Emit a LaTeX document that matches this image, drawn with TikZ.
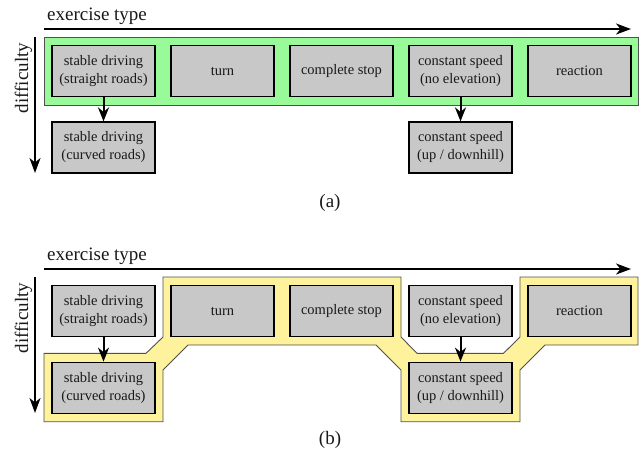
\documentclass[tikz,border=0pt]{standalone}
\usepackage{fontspec}
\setmainfont{Liberation Serif}
\usetikzlibrary{arrows.meta}
\definecolor{boxgray}{HTML}{C8C8C8}
\definecolor{regiongreen}{HTML}{99FA99}
\definecolor{regionyellow}{HTML}{FFF29C}
\definecolor{regionedge}{HTML}{505050}
\tikzset{
  exbox/.style={draw=black, line width=1.2pt, fill=boxgray, minimum width=103pt, minimum height=51pt,
    inner sep=0pt, align=center, font=\fontsize{14.5}{18}\selectfont, text=black!90},
  axis/.style={line width=2pt, -{Stealth[length=15pt, width=11pt, inset=4.5pt]}},
  dep/.style={line width=2pt, -{Stealth[length=14pt, width=11pt, inset=4.5pt]}},
  region/.style={draw=regionedge, line width=0.9pt},
  lbl/.style={font=\fontsize{19}{23}\selectfont, inner sep=0pt, text=black!90},
}
\begin{document}
\begin{tikzpicture}[x=1pt, y=-1pt]
\useasboundingbox (0,0) rectangle (642,459);
% ---------- panel (a) ----------
\fill[white] (0,0) rectangle (642,459);
\draw[region, fill=regiongreen] (44,37) rectangle (638,105);
\node[lbl, anchor=base west] (xa) at (47,20) {exercise type};
\node[lbl, anchor=base, rotate=90] (ya) at (28,78) {difficulty};
\coordinate (xa0) at (44,29);
\coordinate (xa1) at (631,29);
\coordinate (ya0) at (35,37);
\coordinate (ya1) at (35,173);
\draw[axis] (xa0) -- (xa1);
\draw[axis] (ya0) -- (ya1);
\node[exbox] (a1) at (103.5,71) {stable driving\\(straight roads)};
\node[exbox] (a2) at (222.5,71) {turn};
\node[exbox] (a3) at (341.5,71) {complete stop};
\node[exbox] (a4) at (460.5,71) {constant speed\\(no elevation)};
\node[exbox] (a5) at (579.5,71) {reaction};
\node[exbox] (a6) at (103.5,147.5) {stable driving\\(curved roads)};
\node[exbox] (a7) at (460.5,147.5) {constant speed\\(up / downhill)};
\draw[dep] (a1.south) -- (a6.north);
\draw[dep] (a4.south) -- (a7.north);
\node[lbl] (capa) at (330,203) {(a)};
% ---------- panel (b) ----------
\draw[region, fill=regionyellow]
  (44,353.3) -- (146,353.3) -- (163,337) -- (163,277) -- (401,277) -- (401,337)
  -- (417,353.3) -- (503.5,353.3) -- (520,337) -- (520,277) -- (638,277) -- (638,345)
  -- (545,345) -- (520,370) -- (520,421.7) -- (401,421.7) -- (401,370) -- (376,345)
  -- (188,345) -- (163,370) -- (163,421.7) -- (44,421.7) -- cycle;
\node[lbl, anchor=base west] (xb) at (47,260) {exercise type};
\node[lbl, anchor=base, rotate=90] (yb) at (28,318) {difficulty};
\coordinate (xb0) at (44,269);
\coordinate (xb1) at (631,269);
\coordinate (yb0) at (35,277);
\coordinate (yb1) at (35,413);
\draw[axis] (xb0) -- (xb1);
\draw[axis] (yb0) -- (yb1);
\node[exbox] (b1) at (103.5,311) {stable driving\\(straight roads)};
\node[exbox] (b2) at (222.5,311) {turn};
\node[exbox] (b3) at (341.5,311) {complete stop};
\node[exbox] (b4) at (460.5,311) {constant speed\\(no elevation)};
\node[exbox] (b5) at (579.5,311) {reaction};
\node[exbox] (b6) at (103.5,387.7) {stable driving\\(curved roads)};
\node[exbox] (b7) at (460.5,387.7) {constant speed\\(up / downhill)};
\draw[dep] (b1.south) -- (b6.north);
\draw[dep] (b4.south) -- (b7.north);
\node[lbl] (capb) at (330,440) {(b)};
\end{tikzpicture}
\end{document}
